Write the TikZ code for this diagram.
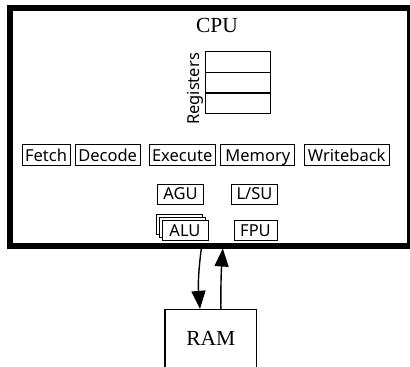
\documentclass[tikz,border=0pt]{standalone}
\usepackage{fontspec}
\setmainfont{Liberation Serif}
\newfontfamily\unitfont{Noto Sans}
\usetikzlibrary{positioning, shadows, arrows.meta, calc}

\begin{document}
\begin{tikzpicture}[x=1pt, y=-1pt,
    cpubox/.style={draw, line width=6pt, inner sep=0pt},
    stage/.style={draw, line width=1pt, font=\unitfont\fontsize{16.5}{19}\selectfont,
        text height=14.5pt, text depth=2pt, inner xsep=2pt, inner ysep=2.5pt},
    unit/.style={stage, fill=white, minimum width=46pt, text height=13.5pt, inner ysep=2.25pt},
    reg/.style={draw, line width=1.2pt, minimum width=65pt, minimum height=20.6pt, outer sep=0pt},
    bigtext/.style={font=\fontsize{21.5}{24}\selectfont},
    link/.style={-{Triangle[length=18pt, width=14pt]}, line width=1.4pt}]

    \useasboundingbox (0,0) rectangle (410,367);

    % CPU outline and its title
    \node[cpubox, minimum width=400.5pt, minimum height=237.5pt] (cpu) at (209.75,126.75) {};
    \node[bigtext] (cpulabel) at (217,25.5) {CPU};

    % Register file
    \node[reg] (reg1) at (238.2,62) {};
    \node[reg, below=0pt of reg1] (reg2) {};
    \node[reg, below=0pt of reg2] (reg3) {};
    \node[rotate=90, font=\unitfont\fontsize{16.5}{19}\selectfont] (reglabel) at (195,89) {Registers};

    % Pipeline stages
    \node[stage, minimum width=48pt] (fetch) at (46,155) {Fetch};
    \node[stage, minimum width=64.7pt] (decode) at (107.7,155) {Decode};
    \node[stage, minimum width=65.7pt] (execute) at (182.2,155) {Execute};
    \node[stage, minimum width=74.3pt] (memory) at (257.8,155) {Memory};
    \node[stage, minimum width=85.3pt] (writeback) at (346.7,155) {Writeback};

    % Execution units
    \node[unit] (agu) at (180.5,194) {AGU};
    \node[unit] (lsu) at (254.5,194) {L/SU};
    \node[unit, double copy shadow={shadow xshift=-2.7pt, shadow yshift=2.7pt}] (alu) at (185,230.3) {ALU};
    \node[unit, minimum width=43pt] (fpu) at (255.5,230.3) {FPU};

    % Main memory
    \node[draw, line width=1.3pt, bigtext, minimum width=91.7pt, minimum height=58.5pt] (ram) at (210.8,338.75) {RAM};

    % Load and store between CPU and RAM
    \draw[link] ($(ram.north |- cpu.south)+(-9.5,0)$) to[bend right=6] ($(ram.north)+(-10.8,0)$);
    \draw[link] ($(ram.north)+(10,0)$) to[bend left=2] ($(ram.north |- cpu.south)+(12,0)$);
\end{tikzpicture}
\end{document}
